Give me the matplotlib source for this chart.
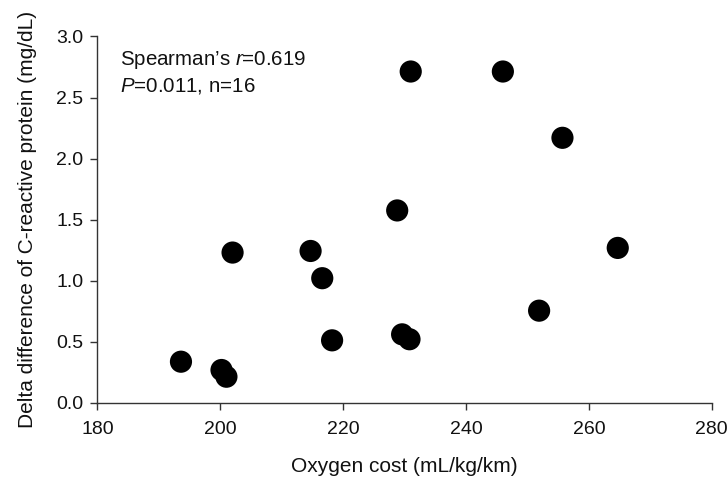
import matplotlib
matplotlib.use("Agg")
import matplotlib.pyplot as plt

plt.rcParams['font.family'] = ['Liberation Sans', 'DejaVu Sans']
plt.rcParams['mathtext.fontset'] = 'custom'
plt.rcParams['mathtext.it'] = 'Liberation Sans:italic'
plt.rcParams['mathtext.rm'] = 'Liberation Sans'

oxygen_cost = [193.6, 200.2, 201.0, 202.0, 214.7, 216.6, 218.2, 228.8, 229.6,
               230.8, 231.0, 246.0, 251.9, 255.7, 264.7]
delta_crp = [0.336, 0.268, 0.213, 1.23, 1.243, 1.02, 0.511, 1.575, 0.56,
             0.52, 2.713, 2.713, 0.754, 2.17, 1.268]

x_ticks = [180, 200, 220, 240, 260, 280]
y_ticks = [0.0, 0.5, 1.0, 1.5, 2.0, 2.5, 3.0]

fig = plt.figure(figsize=(7.27, 4.80), dpi=100)
ax = fig.add_axes([0.134, 0.161, 0.845, 0.763])
ax.scatter(oxygen_cost, delta_crp, s=255, color='black', edgecolors='none', zorder=3)

ax.set_xlim(180, 280)
ax.set_ylim(0, 3.0)
ax.set_xticks(x_ticks)
ax.set_yticks(y_ticks)
ax.set_yticklabels([f"{v:.1f}" for v in y_ticks])
ax.spines['top'].set_visible(False)
ax.spines['right'].set_visible(False)
for s in ['left', 'bottom']:
    ax.spines[s].set_color('#333333')
    ax.spines[s].set_linewidth(1.0)
ax.tick_params(direction='out', length=5, width=1, color='#333333', labelsize=14, labelcolor='#111111')
ax.tick_params(axis='x', pad=8)
ax.tick_params(axis='y', pad=5)

ax.set_xlabel("Oxygen cost (mL/kg/km)", fontsize=15, labelpad=14, color='#111111')
ax.set_ylabel("Delta difference of C-reactive protein (mg/dL)", fontsize=15, labelpad=14, color='#111111')

ax.text(0.037, 0.966, "Spearman\u2019s $\\it{r}$=0.619\n$\\it{P}$=0.011, n=16",
        transform=ax.transAxes, fontsize=14.8, va='top', ha='left', color='#111111', linespacing=1.3)

fig.savefig("out.png", dpi=100)
